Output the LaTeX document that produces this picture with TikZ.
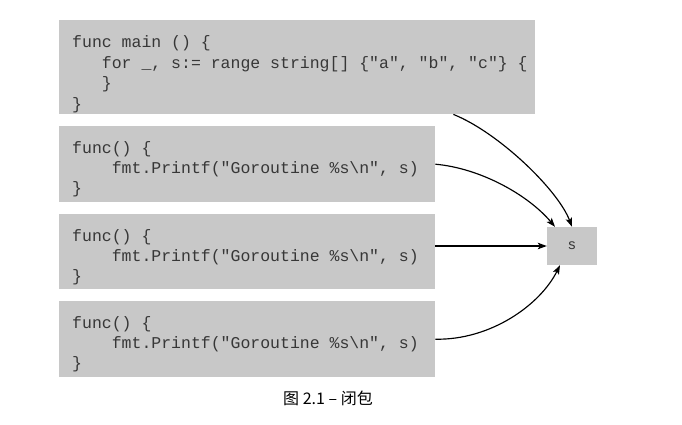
\documentclass[tikz,border=0pt]{standalone}
\usepackage{fontspec}
\setmonofont{Liberation Mono}
\newfontfamily\cjkfont{Noto Sans CJK SC}
\newfontfamily\labelfont{Liberation Sans}
\usetikzlibrary{arrows.meta}
\definecolor{boxgray}{RGB}{200,200,200}
\definecolor{codeink}{RGB}{55,55,55}
\begin{document}
\begin{tikzpicture}[x=1bp,y=-1bp,
  codebox/.style={fill=boxgray, draw=none, inner sep=0pt, anchor=north west},
  codeline/.style={font=\fontsize{16.5bp}{20bp}\selectfont\ttfamily, text=codeink, inner sep=0pt, anchor=base west},
  link/.style={-{Stealth[length=9bp,width=6.5bp,inset=2bp]}, line width=1.15bp, black}]
\useasboundingbox (0,0) rectangle (682,424);
% boxes
\node[codebox, minimum width=476bp, minimum height=94bp] (main) at (59,20) {};
\node[codebox, minimum width=376bp, minimum height=76bp] (f1) at (59,126) {};
\node[codebox, minimum width=376bp, minimum height=75bp] (f2) at (59,214) {};
\node[codebox, minimum width=376bp, minimum height=76bp] (f3) at (59,301) {};
\node[fill=boxgray, inner sep=0pt, minimum width=50bp, minimum height=38bp,
      font=\labelfont\fontsize{14.5bp}{16bp}\selectfont, text=codeink] (s) at (572,246) {s};
% code text
\node[codeline] (m1) at (72,47)    {func main () \{};
\node[codeline] (m2) at (101.7,68) {for \_, s:= range string[] \{"a", "b", "c"\} \{};
\node[codeline] (m3) at (101.7,88) {\}};
\node[codeline] (m4) at (72,109)   {\}};
\node[codeline] (a1) at (72,153)    {func() \{};
\node[codeline] (a2) at (111.6,173) {fmt.Printf("Goroutine \%s\textbackslash n", s)};
\node[codeline] (a3) at (72,193)    {\}};
\node[codeline] (b1) at (72,241)    {func() \{};
\node[codeline] (b2) at (111.6,261) {fmt.Printf("Goroutine \%s\textbackslash n", s)};
\node[codeline] (b3) at (72,281)    {\}};
\node[codeline] (c1) at (72,328)    {func() \{};
\node[codeline] (c2) at (111.6,348) {fmt.Printf("Goroutine \%s\textbackslash n", s)};
\node[codeline] (c3) at (72,368)    {\}};
% caption
\node[font=\cjkfont\fontsize{16bp}{18bp}\selectfont, text=black, inner sep=0pt] (cap) at (328,398) {图 2.1 – 闭包};
% connectors
\draw[link] ([xshift=-82bp]main.south east) .. controls +(45,18) and +(-14,-37) .. (s.north);
\draw[link] (f1.east) .. controls +(45,4) and +(-27,-32) .. ([xshift=-17bp]s.north);
\draw[link] (f2.east |- s.west) -- (s.west);
\draw[link] (f3.east) .. controls +(55,1) and +(-20,40) .. ([xshift=-12bp]s.south);
\end{tikzpicture}
\end{document}
